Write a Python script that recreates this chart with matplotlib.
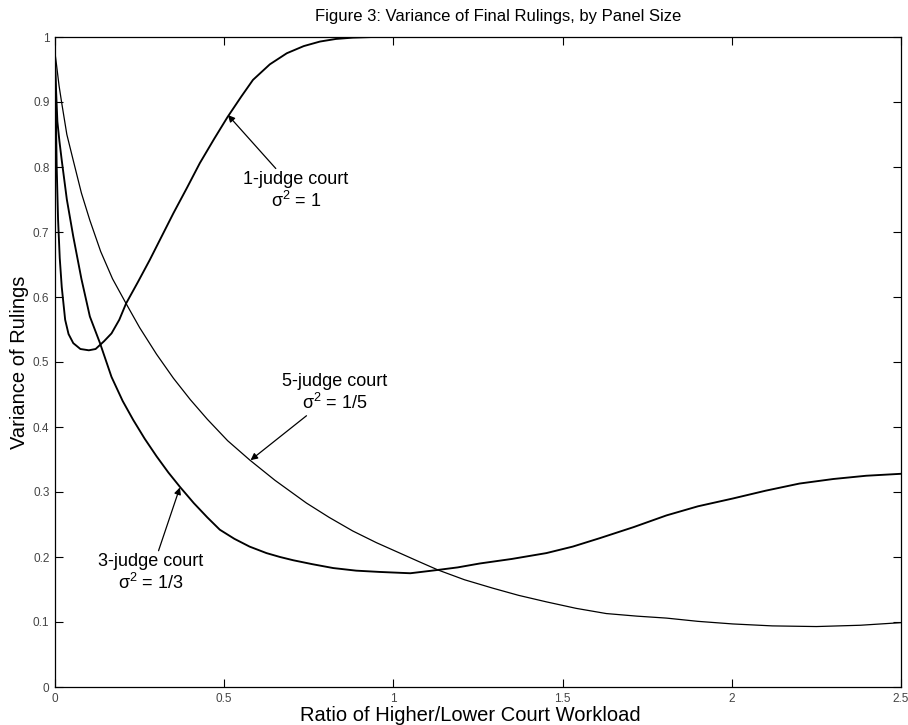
import numpy as np
import matplotlib.pyplot as plt

plt.rcParams["font.family"] = ["Liberation Sans", "DejaVu Sans"]
plt.rcParams["mathtext.default"] = "regular"

# 1-judge court, sigma^2 = 1
x1 = [0, 0.002, 0.005, 0.009, 0.014, 0.02, 0.03, 0.04, 0.054, 0.075, 0.10, 0.12,
      0.145, 0.167, 0.19, 0.21, 0.245, 0.28, 0.315, 0.35, 0.39, 0.428, 0.47, 0.51,
      0.55, 0.585, 0.635, 0.685, 0.735, 0.783, 0.83, 0.88, 0.94]
y1 = [0.98, 0.9, 0.8, 0.72, 0.66, 0.615, 0.565, 0.543, 0.529, 0.52, 0.518, 0.52,
      0.532, 0.544, 0.565, 0.59, 0.623, 0.657, 0.693, 0.729, 0.768, 0.806, 0.843, 0.877,
      0.908, 0.934, 0.958, 0.975, 0.986, 0.993, 0.997, 0.999, 1.0]

# 3-judge court, sigma^2 = 1/3
x3 = [0, 0.003, 0.007, 0.013, 0.02, 0.035, 0.054, 0.078, 0.103, 0.133, 0.167, 0.2,
      0.231, 0.265, 0.3, 0.335, 0.369, 0.41, 0.45, 0.487, 0.53, 0.575, 0.625, 0.665,
      0.704, 0.76, 0.822, 0.89, 0.96, 1.05, 1.13, 1.19, 1.255, 1.35, 1.452, 1.53,
      1.61, 1.71, 1.807, 1.9, 2.003, 2.1, 2.2, 2.3, 2.397, 2.5]
y3 = [0.96, 0.92, 0.87, 0.84, 0.81, 0.75, 0.693, 0.628, 0.57, 0.529, 0.477, 0.44,
      0.411, 0.382, 0.355, 0.33, 0.308, 0.283, 0.261, 0.242, 0.228, 0.216, 0.206, 0.2,
      0.195, 0.189, 0.183, 0.179, 0.177, 0.175, 0.18, 0.184, 0.19, 0.197, 0.206, 0.216,
      0.229, 0.246, 0.264, 0.278, 0.29, 0.302, 0.313, 0.32, 0.325, 0.328]

# 5-judge court, sigma^2 = 1/5
x5 = [0, 0.005, 0.012, 0.02, 0.035, 0.054, 0.078, 0.103, 0.135, 0.17, 0.21, 0.25,
      0.3, 0.35, 0.4, 0.45, 0.51, 0.576, 0.65, 0.743, 0.81, 0.88, 0.95, 1.019, 1.075,
      1.132, 1.21, 1.294, 1.37, 1.452, 1.54, 1.629, 1.72, 1.807, 1.9, 2.003, 2.12,
      2.25, 2.38, 2.5]
y5 = [0.975, 0.955, 0.925, 0.898, 0.85, 0.81, 0.76, 0.718, 0.67, 0.628, 0.59, 0.553,
      0.512, 0.475, 0.442, 0.412, 0.379, 0.349, 0.318, 0.283, 0.261, 0.24, 0.222, 0.206,
      0.193, 0.18, 0.165, 0.152, 0.141, 0.131, 0.121, 0.113, 0.109, 0.106, 0.101, 0.097,
      0.094, 0.093, 0.095, 0.099]

xticks = [0, 0.5, 1, 1.5, 2, 2.5]
xticklabels = ["0", "0.5", "1", "1.5", "2", "2.5"]
yticks = [0, 0.1, 0.2, 0.3, 0.4, 0.5, 0.6, 0.7, 0.8, 0.9, 1]
yticklabels = ["0", "0.1", "0.2", "0.3", "0.4", "0.5", "0.6", "0.7", "0.8", "0.9", "1"]

fig = plt.figure(figsize=(9.08, 7.25), dpi=100)
ax = fig.add_axes([55 / 908, 38 / 725, 846 / 908, 650 / 725])

ax.plot(x1, y1, color="black", lw=1.35)
ax.plot(x3, y3, color="black", lw=1.35)
ax.plot(x5, y5, color="black", lw=0.9)

ax.set_xlim(0, 2.5)
ax.set_ylim(0, 1)
ax.set_xticks(xticks)
ax.set_xticklabels(xticklabels)
ax.set_yticks(yticks)
ax.set_yticklabels(yticklabels)
ax.tick_params(direction="in", length=6, width=0.8, top=True, right=True,
               labelsize=8.5, labelcolor="#444444", pad=4)
for s in ax.spines.values():
    s.set_linewidth(0.9)

fig.text(498 / 908, 1 - 17 / 725, "Figure 3: Variance of Final Rulings, by Panel Size",
         fontsize=12, ha="center", va="center")
ax.set_xlabel("Ratio of Higher/Lower Court Workload", fontsize=14.5, labelpad=1)
ax.xaxis.label.set_x((470 - 55) / 846)
ax.set_ylabel("Variance of Rulings", fontsize=14.5, labelpad=3)

arrow = dict(arrowstyle="-|>", color="black", lw=0.9, mutation_scale=10, shrinkA=0, shrinkB=0)
ax.annotate("1-judge court\nσ$^2$ = 1", xy=(0.511, 0.88), xytext=(0.712, 0.763),
            ha="center", va="center", fontsize=13, arrowprops=arrow, linespacing=1.15)
ax.annotate("5-judge court\nσ$^2$ = 1/5", xy=(0.578, 0.349), xytext=(0.827, 0.452),
            ha="center", va="center", fontsize=13, arrowprops=arrow, linespacing=1.15)
ax.annotate("3-judge court\nσ$^2$ = 1/3", xy=(0.369, 0.307), xytext=(0.2835, 0.175),
            ha="center", va="center", fontsize=13, arrowprops=arrow, linespacing=1.15)

fig.savefig("out.png", dpi=100)
